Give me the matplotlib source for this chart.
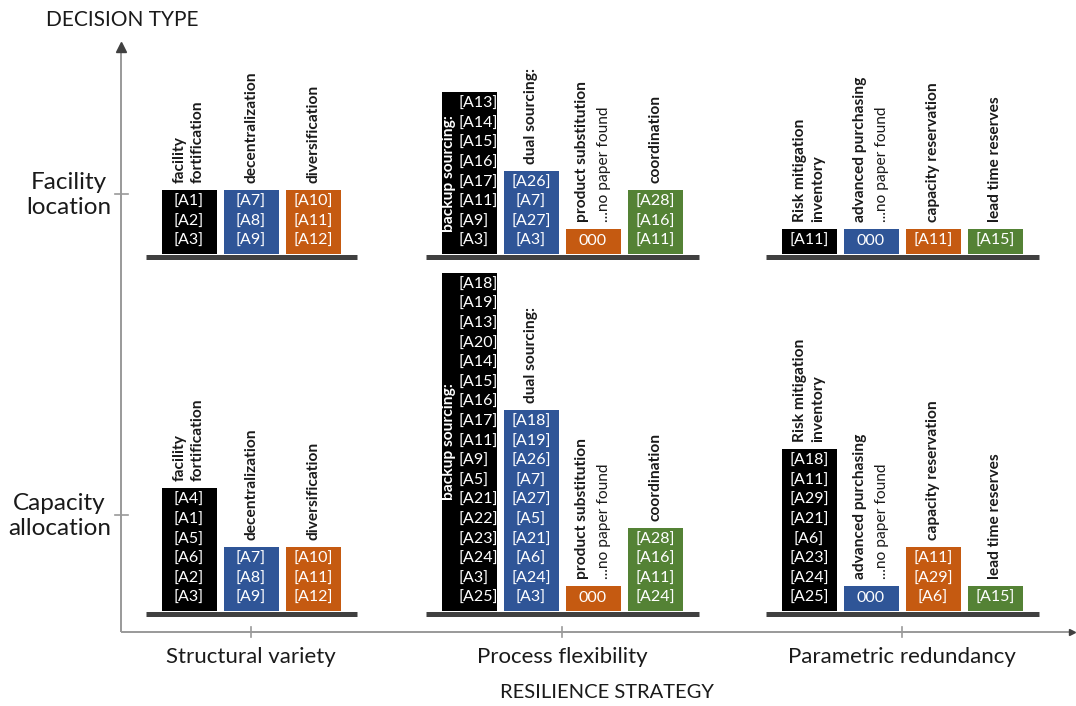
import numpy as np
import matplotlib
matplotlib.use("Agg")
import matplotlib.pyplot as plt

plt.rcParams['font.family'] = ['Lato', 'DejaVu Sans']

# data
strategies = ["Structural variety", "Process flexibility", "Parametric redundancy"]
decisions = ["Facility\nlocation", "Capacity\nallocation"]

measures = [
    ["facility\nfortification", "decentralization", "diversification"],
    ["backup sourcing:", "dual sourcing:", "product substitution", "coordination"],
    ["Risk mitigation\ninventory", "advanced purchasing", "capacity reservation", "lead time reserves"],
]

fl_sv = [["A1", "A2", "A3"], ["A7", "A8", "A9"], ["A10", "A11", "A12"]]
fl_pf = [["A13", "A14", "A15", "A16", "A17", "A11", "A9", "A3"],
         ["A26", "A7", "A27", "A3"], [], ["A28", "A16", "A11"]]
fl_pr = [["A11"], [], ["A11"], ["A15"]]

ca_sv = [["A4", "A1", "A5", "A6", "A2", "A3"], ["A7", "A8", "A9"], ["A10", "A11", "A12"]]
ca_pf = [["A18", "A19", "A13", "A20", "A14", "A15", "A16", "A17", "A11", "A9", "A5",
          "A21", "A22", "A23", "A24", "A3", "A25"],
         ["A18", "A19", "A26", "A7", "A27", "A5", "A21", "A6", "A24", "A3"],
         [], ["A28", "A16", "A11", "A24"]]
ca_pr = [["A18", "A11", "A29", "A21", "A6", "A23", "A24", "A25"], [], ["A11", "A29", "A6"], ["A15"]]

refs = [[fl_sv, fl_pf, fl_pr], [ca_sv, ca_pf, ca_pr]]

colors = ["#000000", "#2F5597", "#C55A11", "#548235"]
empty_text = "000"
empty_note = "...no paper found"

# layout (pixels)
W, H = 1076, 706
group_x = [251, 562, 902]
row_base = [254, 611]
row_tick = [194, 515]
pitch = 62
bar_w = 55
line_h = 19.6
pad = 5
axis_x0, axis_y0 = 121, 632

fig = plt.figure(figsize=(W / 100, H / 100), dpi=100)
ax = fig.add_axes([0, 0, 1, 1])
ax.set_xlim(0, W)
ax.set_ylim(H, 0)
ax.axis('off')

axis_col = "#999999"
ax.plot([axis_x0, axis_x0], [axis_y0, 48], color=axis_col, lw=1.4, solid_capstyle='butt')
ax.plot([axis_x0], [47], marker='^', color='#404040', markersize=7)
ax.plot([axis_x0, 1073], [axis_y0, axis_y0], color=axis_col, lw=1.4, solid_capstyle='butt')
ax.plot([1072], [axis_y0], marker='>', color='#404040', markersize=5)

for yt, lab in zip(row_tick, decisions):
    ax.plot([axis_x0 - 6, axis_x0 + 7], [yt, yt], color=axis_col, lw=1.2)
    ax.text(111, yt + 1, lab, ha='right', va='center', multialignment='center',
            fontsize=17.5, color='#1a1a1a', linespacing=1.25)

for gx, lab in zip(group_x, strategies):
    ax.plot([gx, gx], [axis_y0 - 5, axis_y0 + 5], color=axis_col, lw=1.2)
    ax.text(gx, 657, lab, ha='center', va='center', fontsize=16, color='#1a1a1a')

ax.text(122, 20, "DECISION TYPE", ha='center', va='center', fontsize=15, color='#1a1a1a')
ax.text(607, 692, "RESILIENCE STRATEGY", ha='center', va='center', fontsize=14.5, color='#1a1a1a')

lab_fs = 11.2
txt_fs = 11.5

for r, base in enumerate(row_base):
    for g, gx in enumerate(group_x):
        bars = refs[r][g]
        n = len(bars)
        xs = gx + (np.arange(n) - (n - 1) / 2) * pitch
        nrows = [max(len(b), 1) for b in bars]
        heights = np.array(nrows) * line_h + pad
        ax.bar(xs, heights, width=bar_w, bottom=base - heights,
               color=colors[:n], edgecolor='none', zorder=2)
        # baseline
        ax.plot([xs[0] - bar_w / 2 - 16, xs[-1] + bar_w / 2 + 16], [base + 2.5, base + 2.5],
                color='#404040', lw=3.6, solid_capstyle='butt', zorder=3)
        for i in range(n):
            items = bars[i] if bars[i] else [empty_text]
            top = base - heights[i]
            name = measures[g][i]
            backup = name.startswith("backup")
            for k, it in enumerate(items[::-1]):
                yc = base - 3 - (k + 0.5) * line_h
                txt = it if it == empty_text else "[" + it + "]"
                if backup:
                    ax.text(xs[i] - bar_w / 2 + 17, yc, txt, ha='left', va='center',
                            fontsize=txt_fs, color='white', zorder=4)
                else:
                    ax.text(xs[i], yc, txt, ha='center', va='center',
                            fontsize=txt_fs, color='white', zorder=4)
            if backup:
                ax.text(xs[i] - bar_w / 2 + 8, base - heights[i] / 2, name, rotation=90,
                        ha='center', va='center', fontsize=lab_fs, fontweight='bold',
                        color='white', zorder=4)
            elif not bars[i]:
                ax.text(xs[i] - 11, top - 7, name, rotation=90, ha='center', va='bottom',
                        fontsize=lab_fs, fontweight='bold', color='#1a1a1a')
                ax.text(xs[i] + 11, top - 7, empty_note, rotation=90, ha='center', va='bottom',
                        fontsize=lab_fs, color='#1a1a1a')
            else:
                ax.text(xs[i], top - 7, name, rotation=90, ha='center', va='bottom',
                        multialignment='left', fontsize=lab_fs, fontweight='bold',
                        color='#1a1a1a', linespacing=1.35)

fig.savefig("out.png", dpi=100)
